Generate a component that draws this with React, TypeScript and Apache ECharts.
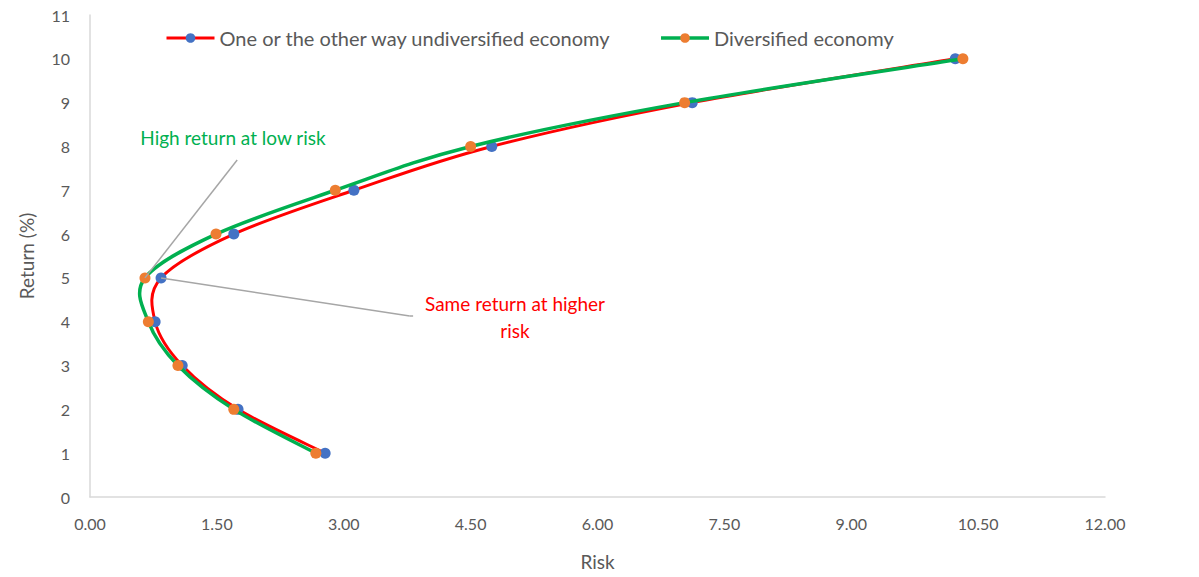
import React, { useEffect, useRef } from "react";
import * as echarts from "echarts";

const returns = [1, 2, 3, 4, 5, 6, 7, 8, 9, 10];
const riskUndiversified = [2.78, 1.75, 1.09, 0.77, 0.84, 1.70, 3.12, 4.75, 7.12, 10.23];
const riskDiversified = [2.67, 1.70, 1.04, 0.69, 0.65, 1.49, 2.90, 4.50, 7.03, 10.32];
const seriesNames = ["One or the other way undiversified economy", "Diversified economy"];
const annotationHigh = "High return at low risk";
const annotationSameLines = ["Same return at higher", "risk"];

const FONT = "Lato, 'Open Sans', sans-serif";
const GRAY = "#595959";
const RED = "#ff0000";
const GREEN = "#00b050";

// Smooth curve through the data points (Catmull-Rom as cubic Bezier), positioned by the chart's own axes via api.coord
function smoothRenderer(data: number[][], color: string, width: number) {
  return (_params: any, api: any) => {
    const p = data.map((d) => api.coord(d));
    const n = p.length;
    let path = `M${p[0][0]},${p[0][1]}`;
    for (let i = 0; i < n - 1; i++) {
      const p0 = p[Math.max(i - 1, 0)];
      const p1 = p[i];
      const p2 = p[i + 1];
      const p3 = p[Math.min(i + 2, n - 1)];
      const c1x = p1[0] + (p2[0] - p0[0]) / 6;
      const c1y = p1[1] + (p2[1] - p0[1]) / 6;
      const c2x = p2[0] - (p3[0] - p1[0]) / 6;
      const c2y = p2[1] - (p3[1] - p1[1]) / 6;
      path += ` C${c1x},${c1y} ${c2x},${c2y} ${p2[0]},${p2[1]}`;
    }
    return {
      type: "path",
      shape: { pathData: path },
      style: { stroke: color, lineWidth: width, fill: "none", lineJoin: "round" },
    };
  };
}

export default function App() {
  const ref = useRef<HTMLDivElement>(null);
  useEffect(() => {
    document.body.style.margin = "0";
    const chart = echarts.init(ref.current!, undefined, { renderer: "svg" });
    const d1 = returns.map((r, i) => [riskUndiversified[i], r]);
    const d2 = returns.map((r, i) => [riskDiversified[i], r]);
    chart.setOption({
      animation: false,
      textStyle: { fontFamily: FONT },
      grid: { left: 90, right: 94, top: 15, bottom: 80, containLabel: false },
      legend: {
        top: 23,
        left: 160,
        itemWidth: 48,
        itemHeight: 12,
        itemGap: 48,
        textStyle: { color: GRAY, fontSize: 20, fontFamily: FONT },
        data: [
          { name: seriesNames[0], lineStyle: { color: RED, width: 3, opacity: 1 } },
          { name: seriesNames[1], lineStyle: { color: GREEN, width: 3.5, opacity: 1 } },
        ],
      },
      xAxis: {
        type: "value",
        min: 0,
        max: 12,
        interval: 1.5,
        name: "Risk",
        nameLocation: "middle",
        nameGap: 55,
        nameTextStyle: { color: GRAY, fontSize: 19, fontFamily: FONT },
        axisLine: { show: true, lineStyle: { color: "#d9d9d9", width: 1.5 } },
        axisTick: { show: false },
        splitLine: { show: false },
        axisLabel: {
          color: GRAY,
          fontSize: 16,
          margin: 18,
          formatter: (v: number) => v.toFixed(2),
        },
      },
      yAxis: {
        type: "value",
        min: 0,
        max: 11,
        interval: 1,
        name: "Return (%)",
        nameLocation: "middle",
        nameGap: 54,
        nameTextStyle: { color: GRAY, fontSize: 19, fontFamily: FONT },
        axisLine: { show: true, lineStyle: { color: "#d9d9d9", width: 1.5 } },
        axisTick: { show: false },
        splitLine: { show: false },
        axisLabel: { color: GRAY, fontSize: 16, margin: 20 },
      },
      series: [
        {
          name: "curve-undiversified",
          type: "custom",
          coordinateSystem: "cartesian2d",
          data: [d1[0]],
          renderItem: smoothRenderer(d1, RED, 3),
          silent: true,
          z: 1,
        },
        {
          name: seriesNames[0],
          type: "line",
          data: d1,
          symbol: "circle",
          symbolSize: 11,
          lineStyle: { color: RED, width: 3, opacity: 0 },
          itemStyle: { color: "#4472c4" },
          z: 2,
          markLine: {
            silent: true,
            symbol: "none",
            label: { show: false },
            lineStyle: { color: "#a6a6a6", width: 1.5, type: "solid" },
            data: [
              [{ coord: [riskUndiversified[4], returns[4]] }, { coord: [3.78, 4.13] }],
              [{ coord: [3.78, 4.13] }, { coord: [3.82, 4.13] }],
            ],
          },
        },
        {
          name: "curve-diversified",
          type: "custom",
          coordinateSystem: "cartesian2d",
          data: [d2[0]],
          renderItem: smoothRenderer(d2, GREEN, 3.5),
          silent: true,
          z: 3,
        },
        {
          name: seriesNames[1],
          type: "line",
          data: d2,
          symbol: "circle",
          symbolSize: 11,
          lineStyle: { color: GREEN, width: 3.5, opacity: 0 },
          itemStyle: { color: "#ed7d31" },
          z: 4,
          markLine: {
            silent: true,
            symbol: "none",
            label: { show: false },
            lineStyle: { color: "#a6a6a6", width: 1.5, type: "solid" },
            data: [[{ coord: [riskDiversified[4], returns[4]] }, { coord: [1.74, 7.69] }]],
          },
        },
      ],
      graphic: [
        {
          type: "text",
          x: 233,
          y: 137,
          style: {
            text: annotationHigh,
            fill: GREEN,
            fontSize: 19,
            fontFamily: FONT,
            textAlign: "center",
            textVerticalAlign: "middle",
          },
        },
        {
          type: "text",
          x: 515,
          y: 303,
          style: {
            text: annotationSameLines[0],
            fill: RED,
            fontSize: 19,
            fontFamily: FONT,
            textAlign: "center",
            textVerticalAlign: "middle",
          },
        },
        {
          type: "text",
          x: 515,
          y: 330,
          style: {
            text: annotationSameLines[1],
            fill: RED,
            fontSize: 19,
            fontFamily: FONT,
            textAlign: "center",
            textVerticalAlign: "middle",
          },
        },
      ],
    });
    return () => chart.dispose();
  }, []);
  return <div ref={ref} style={{ width: 1199, height: 577 }} />;
}
